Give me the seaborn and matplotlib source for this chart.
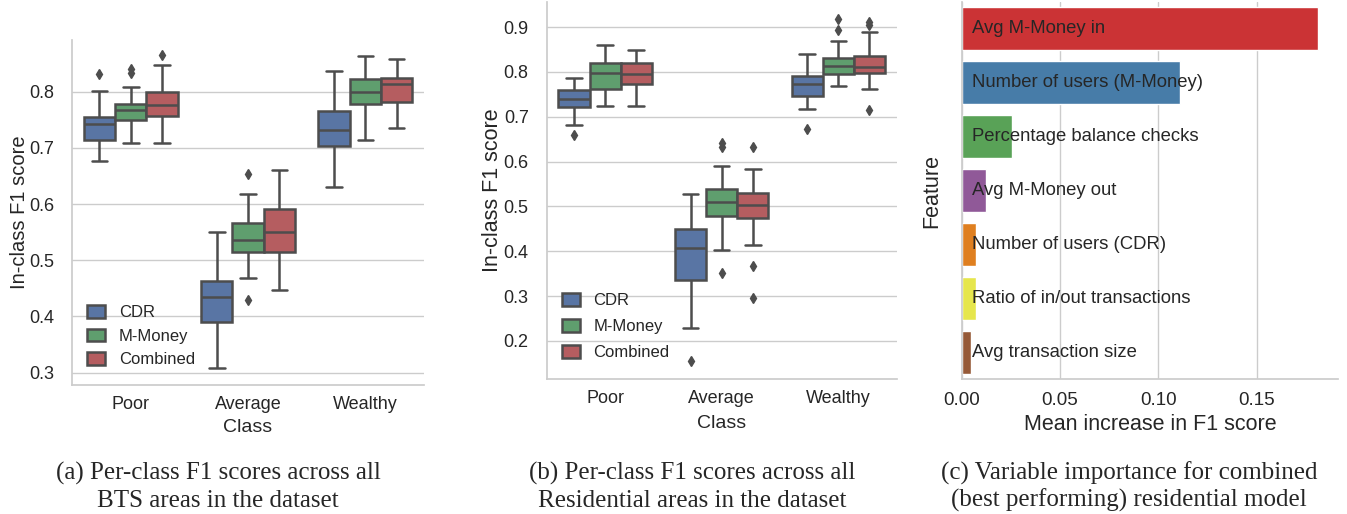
import numpy as np
import pandas as pd
import matplotlib
matplotlib.use('Agg')
import matplotlib.pyplot as plt
from matplotlib.ticker import FormatStrFormatter
import seaborn as sns

sns.set_theme(style='whitegrid')
plt.rcParams['font.family'] = ['Liberation Sans', 'DejaVu Sans']

classes = ['Poor', 'Average', 'Wealthy']
models = ['CDR', 'M-Money', 'Combined']
model_colors = ['#4C72B0', '#55A868', '#C44E52']

# Box summaries: (whisker low, q1, median, q3, whisker high)
# order: Poor CDR, Poor M-Money, Poor Combined, Average ..., Wealthy ...
bts_boxes = [
    (0.677, 0.715, 0.742, 0.755, 0.801),
    (0.708, 0.750, 0.767, 0.779, 0.808),
    (0.708, 0.757, 0.776, 0.799, 0.847),
    (0.308, 0.391, 0.435, 0.463, 0.551),
    (0.468, 0.514, 0.537, 0.566, 0.618),
    (0.447, 0.514, 0.551, 0.591, 0.661),
    (0.631, 0.703, 0.732, 0.766, 0.837),
    (0.714, 0.778, 0.799, 0.822, 0.864),
    (0.735, 0.782, 0.814, 0.825, 0.858),
]
bts_fliers = [
    [0.831], [0.834, 0.840], [0.865],
    [], [0.429, 0.653], [],
    [], [], [],
]

res_boxes = [
    (0.682, 0.721, 0.739, 0.759, 0.787),
    (0.725, 0.763, 0.798, 0.820, 0.861),
    (0.725, 0.774, 0.795, 0.821, 0.848),
    (0.228, 0.336, 0.408, 0.449, 0.527),
    (0.403, 0.478, 0.510, 0.538, 0.591),
    (0.414, 0.475, 0.503, 0.529, 0.584),
    (0.718, 0.746, 0.772, 0.792, 0.841),
    (0.768, 0.795, 0.814, 0.832, 0.869),
    (0.761, 0.797, 0.811, 0.835, 0.888),
]
res_fliers = [
    [0.659], [], [],
    [0.156], [0.352, 0.632, 0.641], [0.296, 0.368, 0.633],
    [0.672], [0.893, 0.919], [0.714, 0.904, 0.911],
]

features = ['Avg M-Money in', 'Number of users (M-Money)', 'Percentage balance checks',
            'Avg M-Money out', 'Number of users (CDR)', 'Ratio of in/out transactions',
            'Avg transaction size']
importance = [0.1814, 0.1112, 0.0254, 0.0125, 0.0075, 0.0075, 0.0046]

captions = [
    ('(a) Per-class F1 scores across all', 'BTS areas in the dataset'),
    ('(b) Per-class F1 scores across all', 'Residential areas in the dataset'),
    ('(c) Variable importance for combined', '(best performing) residential model'),
]


def expand_box(stats, fliers, m=10):
    # sample whose quartiles / whiskers give back the summary that was read
    lo, q1, med, q3, hi = stats
    below = sorted(f for f in fliers if f < q1)
    above = sorted(f for f in fliers if f > q3)
    vals = below + [lo] + [q1] * (m - len(below))
    vals += [med] * m
    vals += [q3] * (m - len(above)) + [hi] + above
    return vals


def to_long(boxes, fliers):
    rows = []
    i = 0
    for c in classes:
        for mdl in models:
            for v in expand_box(boxes[i], fliers[i]):
                rows.append((c, mdl, v))
            i += 1
    return pd.DataFrame(rows, columns=['Class', 'Model', 'F1'])


def draw_box(ax, df, ylim, yticks, ylabel_size, ylabel_pad, xlabel_pad, legend_y, lab_space):
    sns.boxplot(data=df, x='Class', y='F1', hue='Model', order=classes, hue_order=models,
                palette=model_colors, saturation=0.75, linewidth=1.8, linecolor='#4d4d4d',
                fliersize=5,
                flierprops=dict(marker='d', markerfacecolor='#4d4d4d', markeredgecolor='#4d4d4d'),
                ax=ax)
    ax.set_ylim(*ylim)
    ax.set_xlim(-0.5, 2.5)
    ax.set_yticks(yticks)
    ax.set_ylabel('In-class F1 score', fontsize=ylabel_size, color='.15', labelpad=ylabel_pad)
    ax.set_xlabel('Class', fontsize=14, color='.15', labelpad=xlabel_pad)
    ax.set_xticks(range(3))
    ax.set_xticklabels(classes)
    ax.tick_params(axis='y', labelsize=13, colors='.15', pad=7)
    ax.tick_params(axis='x', labelsize=13, colors='.15', pad=2)
    sns.move_legend(ax, 'lower left', bbox_to_anchor=(0, legend_y), frameon=False, title=None,
                    fontsize=12, handlelength=1.1, handleheight=0.8, labelspacing=lab_space)
    sns.despine(ax=ax)


fig = plt.figure(figsize=(13.47, 5.14), dpi=100)
ax_a = fig.add_axes([0.0535, 0.251, 0.2613, 0.671])
ax_b = fig.add_axes([0.4059, 0.2626, 0.2598, 0.7335])
ax_c = fig.add_axes([0.714, 0.2626, 0.2794, 0.7335])

draw_box(ax_a, to_long(bts_boxes, bts_fliers), (0.278, 0.892),
         [0.3, 0.4, 0.5, 0.6, 0.7, 0.8], 14.5, 0, 4, 0.008, 0.5)
draw_box(ax_b, to_long(res_boxes, res_fliers), (0.115, 0.956),
         [0.2, 0.3, 0.4, 0.5, 0.6, 0.7, 0.8, 0.9], 15.5, 0.5, 6, 0.01, 0.65)

# Variable importance
imp_df = pd.DataFrame({'Feature': features, 'Importance': importance})
sns.barplot(data=imp_df, x='Importance', y='Feature', hue='Feature', order=features,
            palette='Set1', saturation=0.75, legend=False, ax=ax_c)
for i, f in enumerate(features):
    ax_c.text(0.0052, i, f, va='center', ha='left', fontsize=13.3, color='.15')
ax_c.set_xlim(0, 0.1915)
ax_c.set_xticks([0, 0.05, 0.10, 0.15])
ax_c.xaxis.set_major_formatter(FormatStrFormatter('%.2f'))
ax_c.tick_params(axis='x', labelsize=13.5, colors='.15', pad=3.5)
ax_c.tick_params(axis='y', labelleft=False)
ax_c.set_xlabel('Mean increase in F1 score', fontsize=15.5, color='.15', labelpad=3.5)
ax_c.set_ylabel('Feature', fontsize=15.5, color='.15', labelpad=14)
sns.despine(ax=ax_c)

# captions below each panel
for (l1, l2), cx in zip(captions, [218, 692, 1129]):
    fig.text(cx / 1347, 0.0661, l1, ha='center', va='baseline', fontsize=18,
             family=['Liberation Serif', 'DejaVu Serif'])
    fig.text(cx / 1347, 0.0136, l2, ha='center', va='baseline', fontsize=18,
             family=['Liberation Serif', 'DejaVu Serif'])

fig.savefig('out.png', dpi=100)
